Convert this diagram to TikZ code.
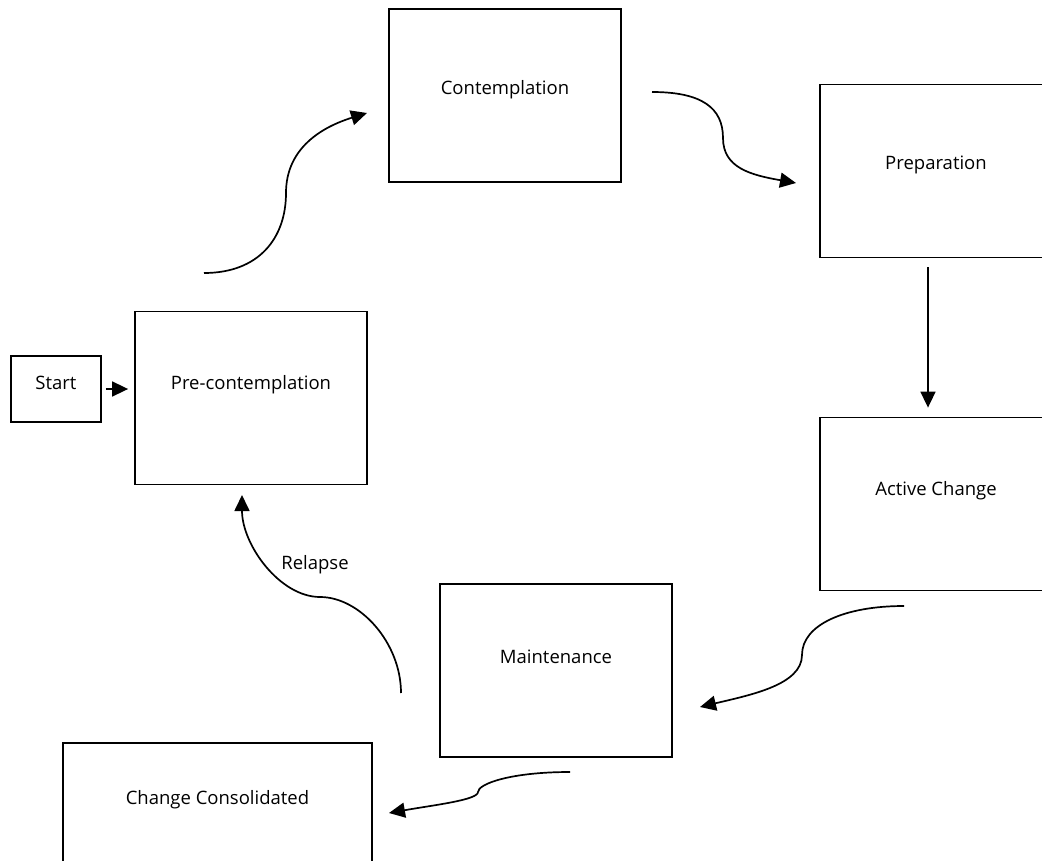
\documentclass[tikz,border=0pt]{standalone}
\usepackage{fontspec}
\setmainfont{Open Sans}
\usetikzlibrary{arrows.meta, positioning, calc}

\tikzset{
  stage/.style={draw, line width=1.8pt, minimum width=232pt, minimum height=173pt,
                inner sep=0pt, text height=13pt, font=\fontsize{18.5}{22}\selectfont},
  note/.style={font=\fontsize{18.5}{22}\selectfont},
  flow/.style={line width=1.7pt, -{Triangle[length=16pt,width=15pt]}}
}

\begin{document}
\begin{tikzpicture}[x=1pt, y=1pt]
  \useasboundingbox (0,0) rectangle (1042,-861);
  \clip (0,0) rectangle (1042,-861);

  % stages of change
  \node[stage, minimum width=90pt, minimum height=66pt, text depth=13pt] (start) at (56,-389) {Start};
  \node[stage, text depth=31pt] (pre) at (251,-398) {Pre-contemplation};
  \node[stage, text depth=14pt] (contemp) at (505,-95.5) {Contemplation};
  \node[stage, text depth=15pt] (prep) at (936,-171) {Preparation};
  \node[stage, text depth=31pt] (active) at (936,-504) {Active Change};
  \node[stage, text depth=28pt] (maint) at (556,-670.5) {Maintenance};
  \node[stage, minimum width=309pt, text depth=64pt] (consol) at (217.5,-829.5) {Change Consolidated};

  % free ends of the curved arrows
  \coordinate (c1s) at (204,-273);
  \coordinate (c1m) at (286,-193);
  \coordinate (c1e) at (367,-113);
  \coordinate (c2s) at (652,-92);
  \coordinate (c2m) at (723,-138);
  \coordinate (c2e) at (796,-183);
  \coordinate (c3s) at (904,-606);
  \coordinate (c3m) at (802,-655);
  \coordinate (c3e) at (700,-707);
  \coordinate (c4s) at (570,-772);
  \coordinate (c4m) at (478,-792);
  \coordinate (c4e) at (389,-813);
  \coordinate (c5s) at (401,-693);
  \coordinate (c5m) at (320,-597);
  \coordinate (c5e) at (242,-495);

  \draw[flow, shorten <=4pt, shorten >=6pt] (start.east) -- (start.east -| pre.west);
  \draw[flow, shorten <=9pt, shorten >=9pt] ([xshift=-8pt]prep.south) -- ([xshift=-8pt]active.north);

  \draw[flow] (c1s) .. controls +(55,0) and +(0,-45) .. (c1m) .. controls +(0,45) and +(-45,-14) .. (c1e);
  \draw[flow] (c2s) .. controls +(50,0) and +(0,30) .. (c2m) .. controls +(0,-30) and +(-45,8) .. (c2e);
  \draw[flow] (c3s) .. controls +(-60,0) and +(0,30) .. (c3m) .. controls +(0,-30) and +(50,12) .. (c3e);
  \draw[flow] (c4s) .. controls +(-60,0) and +(0,8) .. (c4m) .. controls +(0,-8) and +(45,8) .. (c4e);
  \draw[flow] (c5s) .. controls +(0,50) and +(40,0) .. (c5m) .. controls +(-40,0) and +(0,-50) .. (c5e);

  \node[note] (relapse) at (315,-565) {Relapse};
\end{tikzpicture}
\end{document}
